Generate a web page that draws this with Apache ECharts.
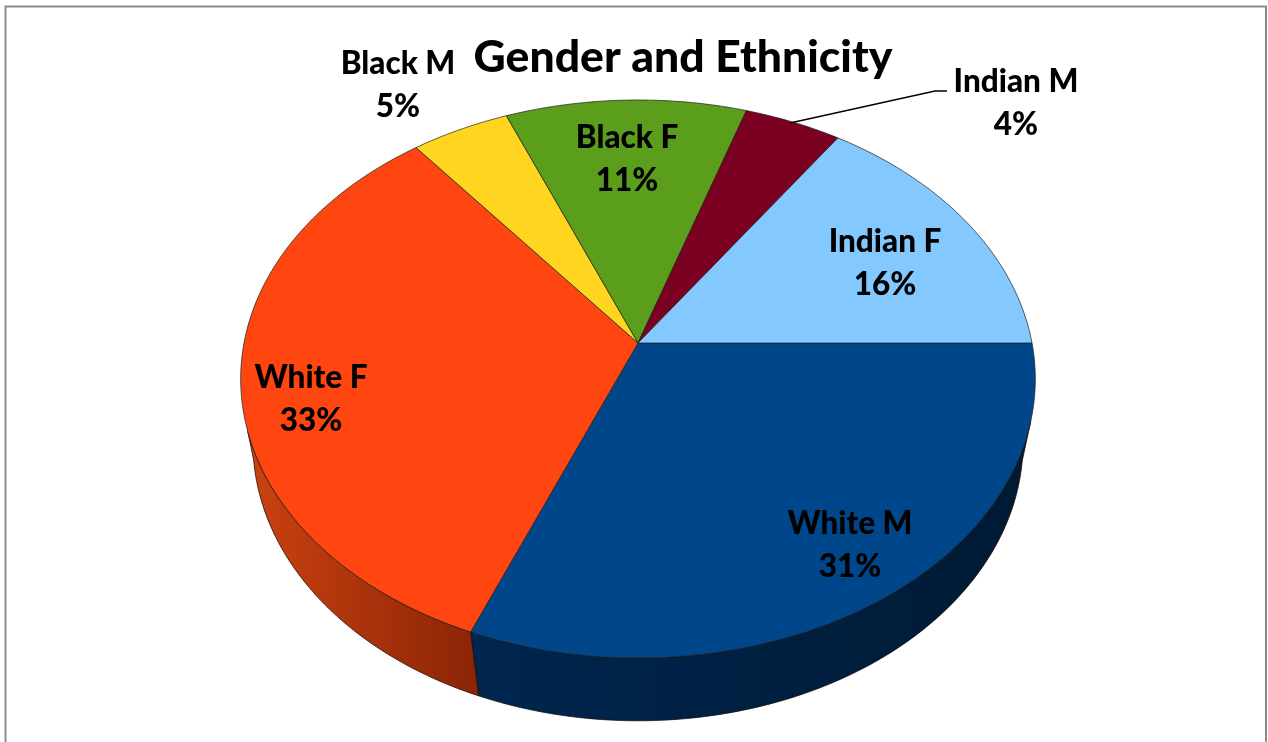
<!DOCTYPE html>
<html><head><meta charset="utf-8">
<style>html,body{margin:0;padding:0;background:#fff}#c{width:1268px;height:742px}</style>
<script src="https://cdn.jsdelivr.net/npm/echarts@6/dist/echarts.min.js"></script>
</head><body><div id="c"></div>
<script>
const chartTitle = 'Gender and Ethnicity';
const categories = ['White M','White F','Black M','Black F','Indian M','Indian F'];
const shares = [31.1,33.25,4.55,11.1,4.49,15.51];
const topColors = ['#00468B','#FF4510','#FFD51F','#5A9E1C','#7C0022','#83C8FF'];
const wallColors = [['#002650','#001A33'],['#CC4210','#8A2406'],['#B89A10','#B89A10'],['#3E6E12','#3E6E12'],['#560018','#560018'],['#5C8CB2','#5C8CB2']];
const labelCentres = [[850,545],[311,399],[398,85],[627,159],[1016,103],[885,263]];

const total = shares.reduce((a,b)=>a+b,0);
const TOP = {a:394,b:230.1,c:343,p:-0.129,clip:[16,162]};
const LOW = {a:382.7,b:229.1,c:412.4,p:-0.11,clip:[10,170]};
const CX = 638;
function rim(r,tDeg){
  const t=tDeg*Math.PI/180,u=Math.cos(t),v=Math.sin(t),d=1+r.p*v;
  return [CX+r.a*u/d,(r.b*v+r.c)/d];
}
function arc(r,t0,t1){
  const pts=[],n=Math.max(2,Math.ceil(Math.abs(t1-t0)));
  for(let i=0;i<=n;i++)pts.push(rim(r,t0+(t1-t0)*i/n));
  return pts;
}
function clipped(r,t0,t1){
  return [Math.max(t0,r.clip[0]),Math.min(t1,r.clip[1])];
}
function span(i){
  let s=0;for(let k=0;k<i;k++)s+=shares[k];
  return [s/total*360,(s+shares[i])/total*360];
}
const rowData = categories.map((name,i)=>({name,value:shares[i]}));

const chart = echarts.init(document.getElementById('c'),null,{renderer:'canvas'});
chart.setOption({
  animation:false,
  backgroundColor:'#fff',
  title:{text:chartTitle,left:678,top:30,textAlign:'center',
    textStyle:{fontFamily:'Lato',fontWeight:900,fontSize:44.5,color:'#000'}},
  graphic:[
    {type:'polyline',z:0,shape:{points:[[5.5,742],[5.5,6.5],[1266,6.5],[1266,742]]},
      style:{stroke:'#8c8c8c',lineWidth:2,fill:null}},
    {type:'polyline',z:10,shape:{points:[[790,123],[935,91],[947,91]]},
      style:{stroke:'#000',lineWidth:1.3,fill:null}}
  ],
  series:[
    {type:'custom',coordinateSystem:'none',z:2,data:rowData,silent:true,
     renderItem(params,api){
       const i=params.dataIndex,[t0,t1]=span(i);
       const a=clipped(TOP,t0,t1),b=clipped(LOW,t0,t1);
       if(a[0]>=a[1]||b[0]>=b[1])return {type:'group',children:[]};
       const pts=arc(TOP,a[0],a[1]).concat(arc(LOW,b[1],b[0]));
       return {type:'polygon',shape:{points:pts},style:{
         fill:new echarts.graphic.LinearGradient(0,0,1,0,[{offset:0,color:wallColors[i][0]},{offset:1,color:wallColors[i][1]}]),
         stroke:'rgba(20,10,10,0.75)',lineWidth:1}};
     }},
    {type:'custom',coordinateSystem:'none',z:3,data:rowData,silent:true,
     renderItem(params,api){
       const i=params.dataIndex,[t0,t1]=span(i);
       const pts=[[CX,TOP.c]].concat(arc(TOP,t0,t1));
       return {type:'polygon',shape:{points:pts},style:{fill:topColors[i],stroke:'rgba(30,30,30,0.7)',lineWidth:1}};
     }},
    {type:'custom',coordinateSystem:'none',z:4,data:rowData,silent:true,
     renderItem(params,api){
       const i=params.dataIndex,pct=Math.round(api.value(0)/total*100);
       return {type:'text',x:labelCentres[i][0],y:labelCentres[i][1],style:{
         text:categories[i]+'\n'+pct+'%',fill:'#000',align:'center',verticalAlign:'middle',
         fontFamily:'Lato',fontWeight:900,fontSize:31.5,lineHeight:43}};
     }}
  ]
});
</script></body></html>
